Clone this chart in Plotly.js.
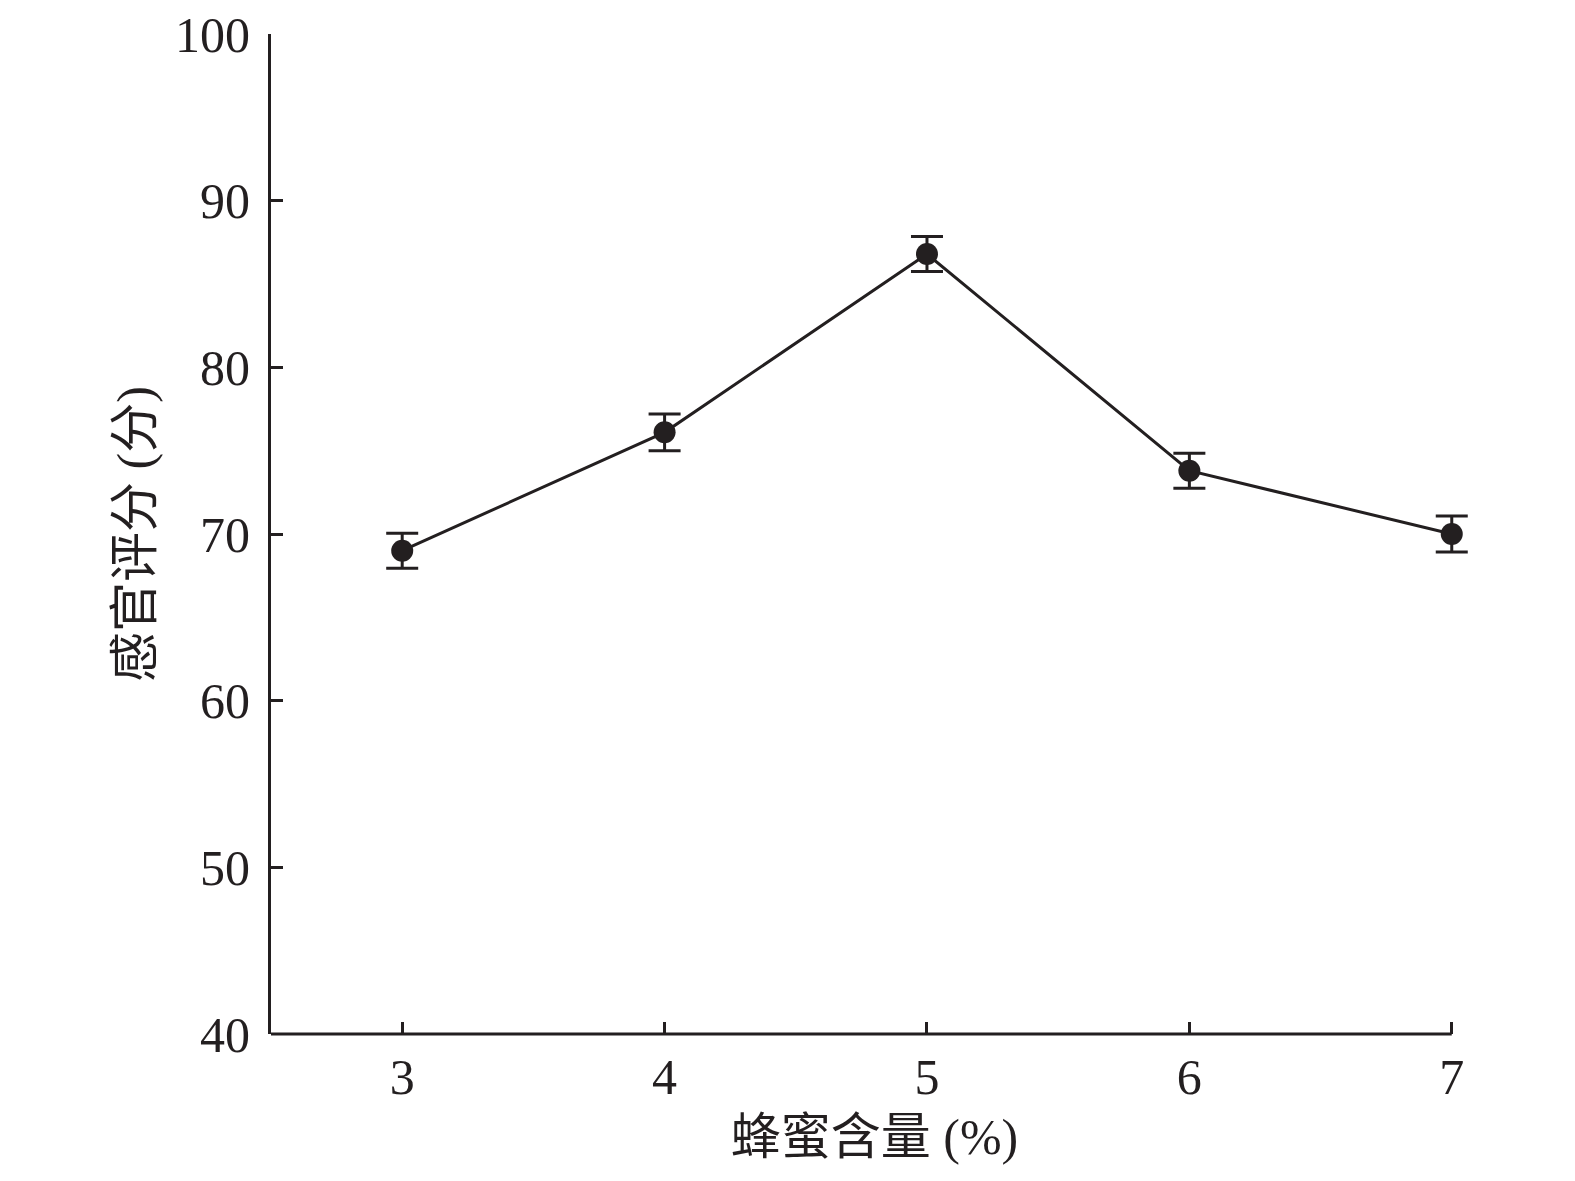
<!DOCTYPE html>
<html>
<head>
<meta charset="utf-8">
<script src="https://cdn.plot.ly/plotly-3.0.1.min.js"></script>
<style>html,body{margin:0;padding:0;background:#fff;}#chart{width:1575px;height:1181px;}</style>
</head>
<body>
<div id="chart"></div>
<script>
const honeyContent = [3, 4, 5, 6, 7];
const sensoryScore = [69.0, 76.1, 86.8, 73.8, 70.0];
const scoreError = [1.05, 1.1, 1.05, 1.05, 1.08];
const yTickValues = [40, 50, 60, 70, 80, 90, 100];
const xTitle = '蜂蜜含量 (%)';
const yTitle = '感官评分 (分)';

const ink = '#231f20';
const fontFam = '"Liberation Serif", "Times New Roman", "Noto Sans CJK SC", serif';

const trace = {
  x: honeyContent,
  y: sensoryScore,
  type: 'scatter',
  mode: 'lines+markers',
  line: {color: ink, width: 3},
  marker: {color: ink, size: 22, symbol: 'circle'},
  error_y: {type: 'data', array: scoreError, visible: true, color: ink, thickness: 3, width: 16},
  cliponaxis: false,
  showlegend: false
};

const layout = {
  width: 1575,
  height: 1181,
  paper_bgcolor: '#fff',
  plot_bgcolor: '#fff',
  margin: {l: 271, r: 97, t: 34, b: 147},
  font: {family: fontFam, color: ink, size: 50},
  xaxis: {
    range: [2.5, 7.1],
    tickvals: honeyContent,
    ticktext: honeyContent.map(String),
    ticks: 'inside',
    ticklen: 12,
    tickwidth: 3,
    tickcolor: ink,
    showline: false,
    showgrid: false,
    zeroline: false,
    ticklabelstandoff: 9,
    tickfont: {family: fontFam, size: 50, color: ink},
    title: {text: xTitle, font: {family: fontFam, size: 50, color: ink}, standoff: 14},
    automargin: false
  },
  yaxis: {
    range: [40, 100],
    tickvals: yTickValues,
    ticktext: yTickValues.map(String),
    ticks: 'inside',
    ticklen: 12,
    tickwidth: 3,
    tickcolor: ink,
    showline: true,
    linecolor: ink,
    linewidth: 3,
    showgrid: false,
    zeroline: false,
    ticklabelstandoff: 8,
    tickfont: {family: fontFam, size: 50, color: ink},
    title: {text: yTitle, font: {family: fontFam, size: 50, color: ink}, standoff: 7},
    automargin: false
  },
  shapes: [{
    type: 'line', xref: 'x', yref: 'paper',
    x0: 2.5, x1: 7.0, y0: 0, y1: 0,
    line: {color: ink, width: 3}
  }]
};

Plotly.newPlot('chart', [trace], layout, {displayModeBar: false, staticPlot: true});
</script>
</body>
</html>
